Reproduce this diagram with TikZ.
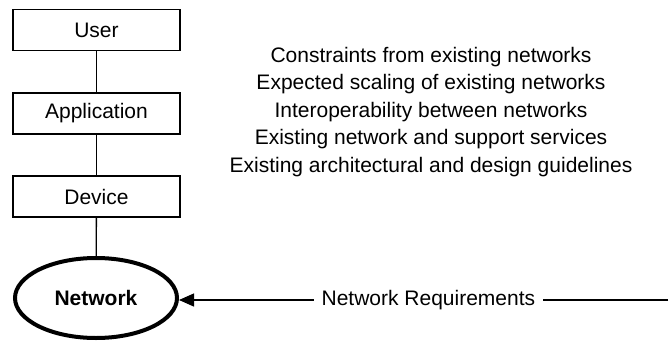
\documentclass[tikz,border=0pt]{standalone}
\usepackage{fontspec}
\setmainfont{Liberation Sans}
\usetikzlibrary{arrows.meta,shapes.geometric}
\begin{document}
\begin{tikzpicture}[x=1pt,y=-1pt,
  box/.style={draw, line width=1.3pt, minimum width=167pt, minimum height=41pt, inner sep=0pt, font=\fontsize{21}{25}\selectfont},
  netell/.style={draw, ellipse, line width=4pt, minimum width=162pt, minimum height=80pt, inner sep=0pt, font=\fontsize{21}{25}\selectfont\bfseries},
  conn/.style={line width=1.3pt},
  txt/.style={font=\fontsize{21}{25}\selectfont, inner sep=0pt}]
\useasboundingbox (0,0) rectangle (669,340);
\node[box] (user) at (96.5,30) {User};
\node[box] (app) at (96.5,113.5) {Application};
\node[box] (dev) at (96.5,196.5) {Device};
\node[netell] (net) at (96,298) {Network};
\draw[conn] (user) -- (app);
\draw[conn] (app) -- (dev);
\draw[conn] (dev) -- (net);
\coordinate (far) at (668,300);
\draw[conn, -{Triangle[length=15pt,width=13pt]}] (far) -- node[pos=0.49, fill=white, inner xsep=8pt, font=\fontsize{21}{25}\selectfont] (req) {Network Requirements} (net.east |- far);
\node[txt] (t1) at (431,57) {Constraints from existing networks};
\node[txt] (t2) at (431,84.5) {Expected scaling of existing networks};
\node[txt] (t3) at (431,112) {Interoperability between networks};
\node[txt] (t4) at (431,139.5) {Existing network and support services};
\node[txt] (t5) at (431,167) {Existing architectural and design guidelines};
\end{tikzpicture}
\end{document}
